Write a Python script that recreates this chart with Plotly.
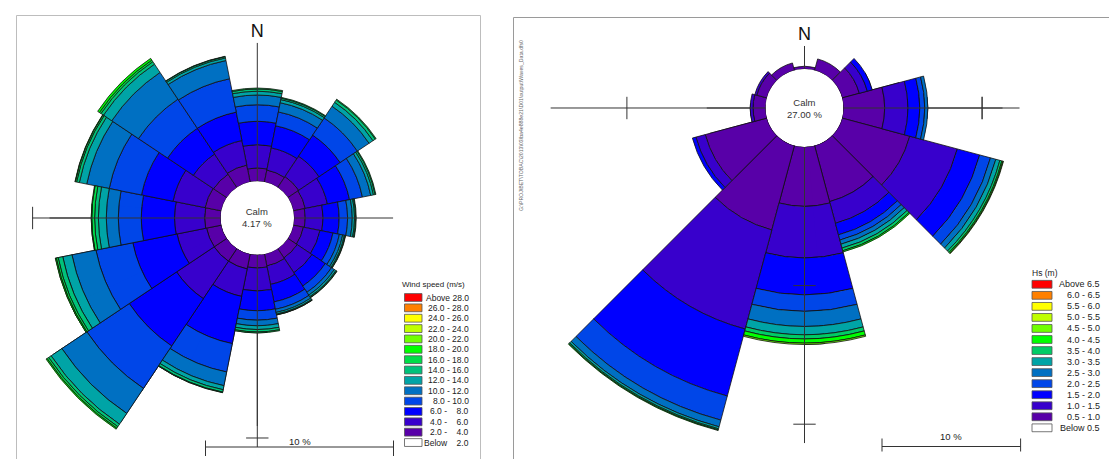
import math
import plotly.graph_objects as go

W, H = 1117, 459
FONT = "Liberation Sans, Arial, sans-serif"

# ------------------------------------------------------------------
# DATA  (frequency of occurrence, % of time)
# ------------------------------------------------------------------
# Left: wind rose, 16 direction sectors
wind_directions = [0.0, 22.5, 45.0, 67.5, 90.0, 112.5, 135.0, 157.5,
                   180.0, 202.5, 225.0, 247.5, 270.0, 292.5, 315.0, 337.5]
wind_2_4   = [0.71, 0.65, 0.70, 0.65, 0.60, 0.55, 0.60, 0.65, 0.71, 0.81, 0.81, 0.80, 0.85, 0.88, 0.85, 0.92]
wind_4_6   = [1.24, 1.20, 1.30, 1.20, 0.95, 0.90, 0.95, 1.00, 1.22, 1.49, 2.40, 1.60, 1.60, 1.74, 1.29, 1.33]
wind_6_8   = [1.24, 1.20, 1.35, 1.20, 0.85, 0.70, 0.85, 0.95, 1.05, 2.56, 3.03, 2.40, 1.77, 1.71, 1.65, 1.54]
wind_8_10  = [0.88, 0.75, 1.10, 0.70, 0.45, 0.35, 0.40, 0.40, 0.50, 1.54, 2.71, 2.00, 1.22, 1.75, 1.86, 1.81]
wind_10_12 = [0.52, 0.50, 0.75, 0.45, 0.25, 0.18, 0.18, 0.17, 0.30, 0.74, 1.60, 1.30, 0.64, 1.22, 1.71, 0.99]
wind_12_14 = [0.20, 0.17, 0.25, 0.15, 0.12, 0.09, 0.10, 0.09, 0.20, 0.22, 0.69, 0.50, 0.42, 0.40, 0.53, 0.14]
wind_14_16 = [0.12, 0.08, 0.15, 0.09, 0.06, 0.05, 0.05, 0.04, 0.13, 0.13, 0.16, 0.25, 0.20, 0.15, 0.16, 0.07]
wind_16_18 = [0.05, 0.04, 0.05, 0.04, 0.03, 0.02, 0.02, 0.01, 0.05, 0.03, 0.10, 0.10, 0.15, 0.07, 0.10, 0.02]
wind_18_20 = [0.00, 0.00, 0.00, 0.00, 0.00, 0.00, 0.00, 0.00, 0.00, 0.00, 0.06, 0.05, 0.03, 0.02, 0.11, 0.00]
wind_calm = 4.17
wind_legend_title = "Wind speed (m/s)"
wind_legend_labels = ["Above 28.0", "26.0 - 28.0", "24.0 - 26.0", "22.0 - 24.0", "20.0 - 22.0",
                      "18.0 - 20.0", "16.0 - 18.0", "14.0 - 16.0", "12.0 - 14.0", "10.0 - 12.0",
                      "8.0 - 10.0", "6.0 -\u2007\u20078.0", "4.0 -\u2007\u20076.0", "2.0 -\u2007\u20074.0",
                      "Below\u2007\u20072.0"]
# extent of the cross axes (%), and their tick marks (%)
wind_axis_ends = {0: 7.36, 90: 5.27, 180: 10.23, 270: 10.03}
wind_axis_ticks = [(270, 10.0), (180, 9.75)]
wind_north_label_r = 7.9

# Right: wave rose (Hs), 12 direction sectors
hs_directions = [0, 30, 60, 90, 120, 150, 180, 210, 240, 270, 300, 330]
hs_05_10 = [0.20, 0.85, 1.28, 2.97, 5.05, 4.18, 4.28, 6.30, 4.60, 0.90, 0.75, 0.55]
hs_10_15 = [0.00, 0.00, 0.60, 1.68, 3.55, 1.62, 3.72, 7.40, 0.70, 0.20, 0.15, 0.00]
hs_15_20 = [0.00, 0.00, 0.36, 0.85, 1.67, 0.86, 2.66, 5.00, 0.26, 0.00, 0.00, 0.00]
hs_20_25 = [0.00, 0.00, 0.00, 0.36, 0.81, 0.39, 1.19, 1.80, 0.00, 0.00, 0.00, 0.00]
hs_25_30 = [0.00, 0.00, 0.00, 0.22, 0.40, 0.31, 1.09, 0.50, 0.00, 0.00, 0.00, 0.00]
hs_30_35 = [0.00, 0.00, 0.00, 0.00, 0.30, 0.29, 0.60, 0.15, 0.00, 0.00, 0.00, 0.00]
hs_35_40 = [0.00, 0.00, 0.00, 0.00, 0.15, 0.20, 0.30, 0.08, 0.00, 0.00, 0.00, 0.00]
hs_40_45 = [0.00, 0.00, 0.00, 0.00, 0.08, 0.09, 0.30, 0.05, 0.00, 0.00, 0.00, 0.00]
hs_45_50 = [0.00, 0.00, 0.00, 0.00, 0.04, 0.00, 0.10, 0.00, 0.00, 0.00, 0.00, 0.00]
hs_calm = 27.00
hs_legend_title = "Hs (m)"
hs_legend_labels = ["Above 6.5", "6.0 - 6.5", "5.5 - 6.0", "5.0 - 5.5", "4.5 - 5.0", "4.0 - 4.5",
                    "3.5 - 4.0", "3.0 - 3.5", "2.5 - 3.0", "2.0 - 2.5", "1.5 - 2.0", "1.0 - 1.5",
                    "0.5 - 1.0", "Below 0.5"]
hs_axis_ends = {0: 1.66, 90: 12.7, 180: 21.36, 270: 15.5}
hs_axis_ticks = [(270, 10.0), (90, 10.0), (180, 10.0), (180, 20.0)]
hs_north_label_r = 2.45

file_path_label = "G:\\PROJ\\BET\\TOBAC\\2013\\03\\ba4e888e21\\D01\\output\\Waves_Data.dfs0"
scale_label = "10 %"
scale_pct = 10.0

# ------------------------------------------------------------------
# STYLE
# ------------------------------------------------------------------
WIND_COLORS = ["#5800A8", "#3800CC", "#0000FF", "#0046E8", "#0070C2", "#00A4A6",
               "#00C27A", "#00DE48", "#00FF00", "#70FF00", "#C0FF00", "#FFFF00",
               "#FF8000", "#FF0000"]
HS_COLORS = ["#5800A8", "#3800CC", "#0000FF", "#0046E8", "#0070C2", "#00A4A6",
             "#00CC66", "#00FF00", "#70FF00", "#C0FF00", "#FFFF00", "#FF8000", "#FF0000"]
OUTLINE = "#111111"
AXIS_COL = "#333333"

# rose geometry in px: centre, calm-circle radius, px per 1 %
L_CX, L_CY, L_HOLE, L_PPP = 249.3, 210.0, 36.7, 18.8
R_CX, R_CY, R_HOLE, R_PPP = 796.5, 100.0, 39.0, 13.86


def sector_bbox(sector):
    s0, s1 = sector
    angs = [s0, s1] + [a for a in range(-360, 721, 90) if s0 <= a <= s1]
    xs = [0.0] + [math.cos(math.radians(a)) for a in angs]
    ys = [0.0] + [math.sin(math.radians(a)) for a in angs]
    return min(xs), min(ys), max(xs), max(ys)


def polar_layout(cx, cy, R, sector, hole_px, ppp):
    """Polar subplot (possibly a partial sector) sharing centre / radial scale."""
    x0, y0, x1, y1 = sector_bbox(sector)
    left, right = cx + x0 * R, cx + x1 * R
    top, bottom = cy - y1 * R, cy - y0 * R
    dom_x = [max(0.0, left / W), min(1.0, right / W)]
    dom_y = [max(0.0, 1 - bottom / H), min(1.0, 1 - top / H)]
    return dict(
        domain=dict(x=dom_x, y=dom_y), sector=list(sector), hole=hole_px / R,
        bgcolor="rgba(0,0,0,0)", barmode="stack", bargap=0,
        radialaxis=dict(visible=False, range=[0, (R - hole_px) / ppp]),
        angularaxis=dict(visible=False, rotation=90, direction="clockwise"),
    )


fig = go.Figure()


def add_rose(polar_ids, dirs, bands, colors, width, axis_ends, axis_ticks, north_r, north_in):
    for pid in polar_ids:
        for k, vals in enumerate(bands):
            r = [v if v > 0 else None for v in vals]
            fig.add_trace(go.Barpolar(
                r=r, theta=dirs, width=width, subplot=pid,
                marker=dict(color=colors[k], line=dict(color=OUTLINE, width=0.8)),
                showlegend=False, hoverinfo="skip"))
        for th, rend in axis_ends.items():
            fig.add_trace(go.Scatterpolar(
                r=[0, rend], theta=[th, th], mode="lines", subplot=pid,
                line=dict(color=AXIS_COL, width=1), showlegend=False, hoverinfo="skip"))
        for th, rt in axis_ticks:
            sym = "line-ns" if th in (90, 270) else "line-ew"
            fig.add_trace(go.Scatterpolar(
                r=[rt], theta=[th], mode="markers", subplot=pid,
                marker=dict(symbol=sym, size=16, line=dict(color=AXIS_COL, width=1)),
                showlegend=False, hoverinfo="skip"))
        if pid == north_in:
            fig.add_trace(go.Scatterpolar(
                r=[north_r], theta=[0], mode="text", text=["N"], subplot=pid,
                textfont=dict(family=FONT, size=18, color="#111"),
                showlegend=False, hoverinfo="skip"))


wind_bands = [wind_2_4, wind_4_6, wind_6_8, wind_8_10, wind_10_12,
              wind_12_14, wind_14_16, wind_16_18, wind_18_20]
hs_bands = [hs_05_10, hs_10_15, hs_15_20, hs_20_25, hs_25_30,
            hs_30_35, hs_35_40, hs_40_45, hs_45_50]

layout_polars = {
    "polar":  polar_layout(L_CX, L_CY, 208, (0, 360), L_HOLE, L_PPP),
    "polar2": polar_layout(L_CX, L_CY, 246, (175, 275), L_HOLE, L_PPP),
    "polar3": polar_layout(L_CX, L_CY, 262, (205, 245), L_HOLE, L_PPP),
    "polar4": polar_layout(R_CX, R_CY, 98, (0, 360), R_HOLE, R_PPP),
    "polar5": polar_layout(R_CX, R_CY, 198, (-5, 30), R_HOLE, R_PPP),
    "polar6": polar_layout(R_CX, R_CY, 300, (-90, 5), R_HOLE, R_PPP),
    "polar7": polar_layout(R_CX, R_CY, 355, (175, 275), R_HOLE, R_PPP),
}

add_rose(["polar", "polar2", "polar3"], wind_directions, wind_bands, WIND_COLORS, 22.5,
         wind_axis_ends, wind_axis_ticks, wind_north_label_r, "polar")
add_rose(["polar4", "polar5", "polar6", "polar7"], hs_directions, hs_bands, HS_COLORS, 30,
         hs_axis_ends, hs_axis_ticks, hs_north_label_r, "polar4")

shapes, annotations = [], []


def px(x):
    return x / W


def py(y):
    return 1 - y / H


def rect(x0, y0, x1, y1, line_col, fill="rgba(0,0,0,0)", lw=1):
    shapes.append(dict(type="rect", xref="paper", yref="paper",
                       x0=px(x0), x1=px(x1), y0=py(y1), y1=py(y0),
                       line=dict(color=line_col, width=lw), fillcolor=fill, layer="below"))


def seg(x0, y0, x1, y1, col=AXIS_COL, lw=1):
    shapes.append(dict(type="line", xref="paper", yref="paper",
                       x0=px(x0), x1=px(x1), y0=py(y0), y1=py(y1),
                       line=dict(color=col, width=lw)))


def text(x, y, s, size, xanchor="center", col="#222", angle=0):
    annotations.append(dict(xref="paper", yref="paper", x=px(x), y=py(y), text=s,
                            showarrow=False, xanchor=xanchor, yanchor="middle",
                            textangle=angle, borderpad=0,
                            font=dict(family=FONT, size=size, color=col)))


# panel frames
rect(8.5, 7.5, 472.5, 455.5, "#BDBDBD")
rect(505.5, 9.5, 1112.5, 456.0, "#9A9A9A")

# calm labels
text(L_CX, L_CY, "Calm<br>%.2f %%" % wind_calm, 9.5, col="#333")
text(R_CX, R_CY, "Calm<br>%.2f %%" % hs_calm, 9.5, col="#333")


# scale bars (length = 10 % of the radial scale)
def scale_bar(x0, y, ppp, up, down, label_y):
    x1 = x0 + scale_pct * ppp
    seg(x0, y, x1, y)
    seg(x0, y - up, x0, y + down)
    seg(x1, y - up, x1, y + down)
    text((x0 + x1) / 2, label_y, scale_label, 9.5, col="#222")


scale_bar(197.5, 439.0, L_PPP, 6.5, 9.0, 433.0)
scale_bar(874.0, 438.5, R_PPP, 8, 5, 428.0)


# colour legends
def legend(x_box, w_box, y_first, pitch, h_box, labels, colors, title, title_x, title_y,
           label_right, font_size, title_anchor):
    n = len(labels)
    for i, lab in enumerate(labels):
        yc = y_first + i * pitch
        col = "#FFFFFF" if i == n - 1 else colors[n - 2 - i]
        rect(x_box, yc - h_box / 2, x_box + w_box, yc + h_box / 2, "#555555", fill=col, lw=0.8)
        text(label_right, yc, lab, font_size, xanchor="right", col="#222")
    text(title_x, title_y, title, font_size - 0.5, xanchor=title_anchor, col="#222")


legend(396.5, 17.5, 289.5, 10.36, 7.8, wind_legend_labels, WIND_COLORS, wind_legend_title,
       425.5, 276.0, 461.5, 8.5, "center")
legend(1024.0, 20.0, 276.3, 11.04, 7.8, hs_legend_labels, HS_COLORS, hs_legend_title,
       1022.5, 265.0, 1093.0, 9.0, "left")

# rotated file path
text(513.0, 118.0, file_path_label, 5.2, col="#666", angle=-90)

fig.update_layout(
    width=W, height=H, autosize=False,
    margin=dict(l=0, r=0, t=0, b=0, pad=0),
    paper_bgcolor="white", plot_bgcolor="white",
    showlegend=False, shapes=shapes, annotations=annotations,
    **layout_polars,
)

fig.write_html("out.html", config={"displayModeBar": False})
